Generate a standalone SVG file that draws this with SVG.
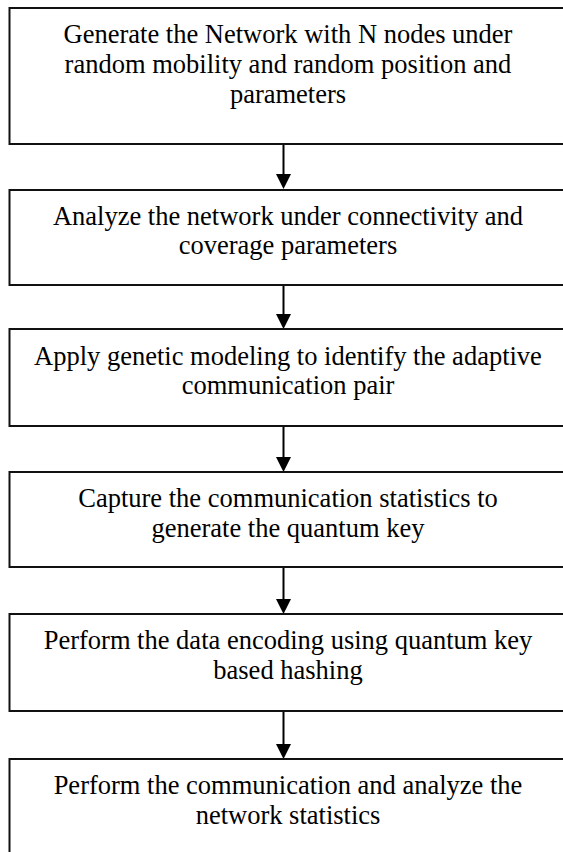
<svg xmlns="http://www.w3.org/2000/svg" width="563" height="852" viewBox="0 0 563 852">
  <style>
    .box { fill: #ffffff; stroke: #111111; stroke-width: 2; }
    .label { font-family: "Liberation Serif", "Times New Roman", serif; font-size: 26.5px; fill: #000000; text-anchor: middle; }
    .link { stroke: #000000; stroke-width: 2; fill: none; }
    .head { fill: #000000; stroke: none; }
  </style>
  <rect width="563" height="852" fill="#ffffff"/>

  <g id="connectors">
    <line class="link" x1="283.5" y1="145" x2="283.5" y2="175"/>
    <polygon class="head" points="276,174 291,174 283.5,189"/>
    <line class="link" x1="283.5" y1="286" x2="283.5" y2="315"/>
    <polygon class="head" points="276,314 291,314 283.5,329"/>
    <line class="link" x1="283.5" y1="427" x2="283.5" y2="458"/>
    <polygon class="head" points="276,457 291,457 283.5,472"/>
    <line class="link" x1="283.5" y1="568" x2="283.5" y2="600"/>
    <polygon class="head" points="276,599 291,599 283.5,614"/>
    <line class="link" x1="283.5" y1="712" x2="283.5" y2="745"/>
    <polygon class="head" points="276,744 291,744 283.5,759"/>
  </g>

  <g id="step1">
    <rect class="box" x="9.5" y="8" width="570" height="136"/>
    <text class="label" x="288" y="43">Generate the Network with N nodes under</text>
    <text class="label" x="288" y="73">random mobility and random position and</text>
    <text class="label" x="288" y="103">parameters</text>
  </g>

  <g id="step2">
    <rect class="box" x="9.5" y="190" width="570" height="95"/>
    <text class="label" x="288" y="225">Analyze the network under connectivity and</text>
    <text class="label" x="288" y="254">coverage parameters</text>
  </g>

  <g id="step3">
    <rect class="box" x="9.5" y="329" width="570" height="97"/>
    <text class="label" x="288" y="365">Apply genetic modeling to identify the adaptive</text>
    <text class="label" x="288" y="394">communication pair</text>
  </g>

  <g id="step4">
    <rect class="box" x="9.5" y="472" width="570" height="95"/>
    <text class="label" x="288" y="507">Capture the communication statistics to</text>
    <text class="label" x="288" y="537">generate the quantum key</text>
  </g>

  <g id="step5">
    <rect class="box" x="9.5" y="614" width="570" height="97"/>
    <text class="label" x="288" y="649">Perform the data encoding using quantum key</text>
    <text class="label" x="288" y="679">based hashing</text>
  </g>

  <g id="step6">
    <rect class="box" x="9.5" y="759" width="570" height="120"/>
    <text class="label" x="288" y="794">Perform the communication and analyze the</text>
    <text class="label" x="288" y="824">network statistics</text>
  </g>
</svg>
